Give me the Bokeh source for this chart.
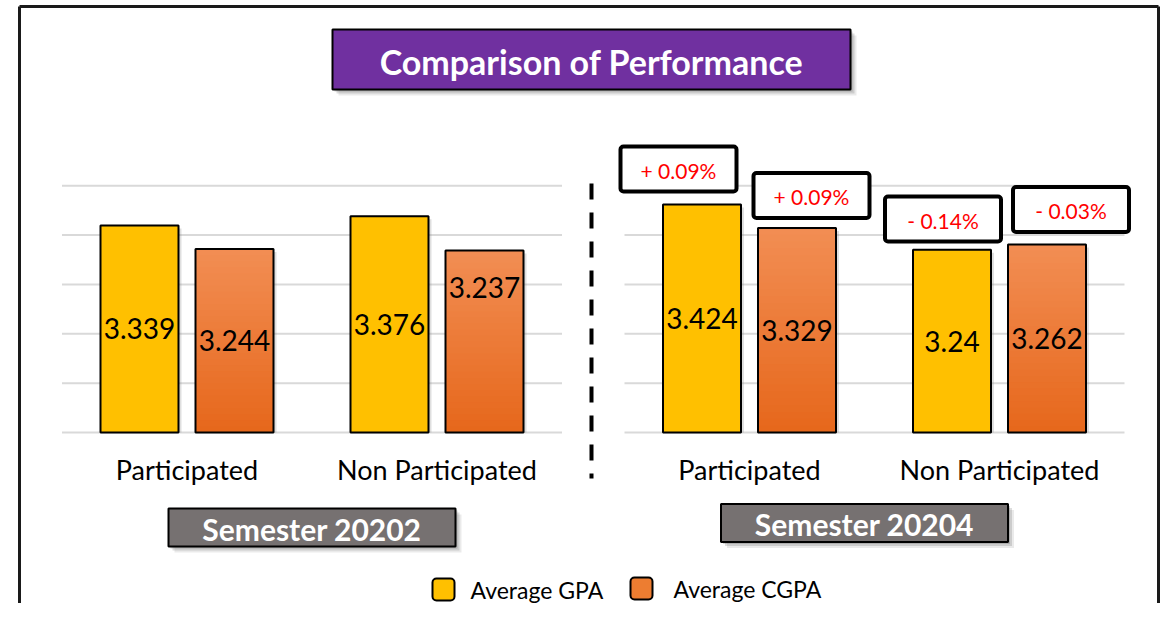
from bokeh.plotting import figure
from bokeh.models import Range1d
from bokeh.core.properties import value
from bokeh.embed import file_html
from bokeh.resources import INLINE

# ---------------- data ----------------
title = "Comparison of Performance"
semesters = ["Semester 20202", "Semester 20204"]
groups = ["Participated", "Non Participated"]
series = ["Average GPA", "Average CGPA"]
gpa = [3.339, 3.376, 3.424, 3.24]      # 20202 Part, 20202 Non, 20204 Part, 20204 Non
cgpa = [3.244, 3.237, 3.329, 3.262]
changes = ["+ 0.09%", "+ 0.09%", "- 0.14%", "- 0.03%"]  # 20204: GPA P, CGPA P, GPA NP, CGPA NP
y_ticks = [2.5, 2.7, 2.9, 3.1, 3.3, 3.5]

# ---------------- layout helpers (page pixels -> data, decorations only) ----------------
W, H = 1160, 603
OX, OY = 0, 0
XPX, X0 = 250.0, 186.5
YPX, YBASE_PX, YMIN = 246.8, 432.0, 2.5


def X(px):
    return (px - X0) / XPX


def Y(py):
    return YMIN + (YBASE_PX - py) / YPX


def DX(w):
    return w / XPX


def DY(h):
    return h / YPX


FONT = value("Lato")
PANEL_STEP = 2.25
DODGE = 0.19
BAR_W = 0.312

p = figure(width=W, height=H, x_range=Range1d(X(OX), X(OX + W)),
           y_range=Range1d(Y(OY + H), Y(OY)),
           x_axis_location=None, y_axis_location=None,
           toolbar_location=None, output_backend="svg",
           min_border=0, outline_line_color=None,
           background_fill_color="white", border_fill_color="white")
p.xgrid.visible = False
p.ygrid.visible = False

# outer frame
p.line([X(19), X(19)], [Y(620), Y(6)], line_color="#1a1a1a", line_width=3)
p.line([X(19), X(1158)], [Y(6), Y(6)], line_color="#1a1a1a", line_width=3)
p.line([X(1158), X(1158)], [Y(6), Y(620)], line_color="#1a1a1a", line_width=3)

# ---------------- gridlines per panel ----------------
gx0, gx1, gy = [], [], []
for s in range(len(semesters)):
    for t in y_ticks:
        gx0.append(s * PANEL_STEP - 0.5)
        gx1.append(s * PANEL_STEP + len(groups) - 0.5)
        gy.append(t)
p.segment(x0=gx0, x1=gx1, y0=gy, y1=gy, line_color="#d9d9d9", line_width=2)

# ---------------- bars ----------------
centers = [s * PANEL_STEP + g for s in range(len(semesters)) for g in range(len(groups))]
gpa_x = [c - DODGE for c in centers]
cgpa_x = [c + DODGE for c in centers]

# soft shadows
p.vbar(x=[x + DX(3) for x in gpa_x + cgpa_x], top=[v - DY(3) for v in gpa + cgpa],
       bottom=YMIN, width=BAR_W, fill_color="#7f7f7f", fill_alpha=0.25, line_color=None)

p.vbar(x=gpa_x, top=gpa, bottom=YMIN, width=BAR_W, fill_color="#FFC000",
       line_color="black", line_width=2)

# CGPA bars with vertical gradient (nested, overlapping layers -> no seams)
N = 30
top_c = (242, 142, 84)
bot_c = (230, 103, 27)
ql, qr, qb, qt, qc = [], [], [], [], []
for k in range(N, 0, -1):
    f = (k - 0.5) / N
    col = "#%02x%02x%02x" % tuple(int(round(bot_c[j] + (top_c[j] - bot_c[j]) * f)) for j in range(3))
    for x, v in zip(cgpa_x, cgpa):
        ql.append(x - BAR_W / 2)
        qr.append(x + BAR_W / 2)
        qb.append(YMIN)
        qt.append(YMIN + (v - YMIN) * k / N)
        qc.append(col)
p.quad(left=ql, right=qr, bottom=qb, top=qt, fill_color=qc, line_color=None)
p.vbar(x=cgpa_x, top=cgpa, bottom=YMIN, width=BAR_W, fill_color=None,
       line_color="black", line_width=2)

# value labels
gpa_ly = [(YMIN + v) / 2 for v in gpa]
cgpa_ly = [(YMIN + v) / 2 for v in cgpa]
cgpa_ly[1] = cgpa[1] - 0.15   # this label sits near the top of its bar in the original
p.text(x=gpa_x + cgpa_x, y=gpa_ly + cgpa_ly,
       text=["%g" % v for v in gpa + cgpa],
       text_align="center", text_baseline="middle", text_font=FONT,
       text_font_size="28px", text_color="black")

# category labels
p.text(x=centers, y=[Y(469)] * len(centers), text=groups * len(semesters),
       text_align="center", text_baseline="middle", text_font=FONT,
       text_font_size="27px", text_color="black")

# dashed divider
p.line([X(591), X(591)], [Y(183), Y(478)], line_color="black", line_width=4,
       line_dash="16 13")

# change boxes (semester 20204)
bx = [X(678), X(811), X(942.5), X(1070.5)]
by = [Y(168.5), Y(195), Y(218.5), Y(209)]
p.rect(x=bx, y=by, width=DX(116), height=DY(45), fill_color="white",
       line_color="black", line_width=4, border_radius=3)
p.text(x=bx, y=[b - DY(1) for b in by], text=changes, text_align="center",
       text_baseline="middle", text_font=FONT, text_font_size="21px",
       text_color="#ff0000")

# title box
for off, a in [(6, 0.12), (4, 0.2), (2, 0.25)]:
    p.rect(x=[X(591 + off)], y=[Y(59 + off)], width=DX(518), height=DY(60),
           fill_color="#555555", fill_alpha=a, line_color=None)
p.rect(x=[X(591)], y=[Y(59)], width=DX(518), height=DY(60), fill_color="#7030A0",
       line_color="black", line_width=2)
p.text(x=[X(591)], y=[Y(61)], text=[title], text_align="center",
       text_baseline="middle", text_font=FONT, text_font_style="bold",
       text_font_size="34px", text_color="white")

# semester boxes
sx = [X(311.5), X(864)]
sy = [Y(527), Y(522.5)]
for off, a in [(6, 0.12), (4, 0.2), (2, 0.25)]:
    p.rect(x=[v + DX(off) for v in sx], y=[v - DY(off) for v in sy], width=DX(287),
           height=DY(38), fill_color="#555555", fill_alpha=a, line_color=None)
p.rect(x=sx, y=sy, width=DX(287), height=DY(38), fill_color="#767171",
       line_color="black", line_width=2)
p.text(x=sx, y=[v - DY(1) for v in sy], text=semesters, text_align="center",
       text_baseline="middle", text_font=FONT, text_font_style="bold",
       text_font_size="30px", text_color="white")

# legend (kept inside the canvas)
p.rect(x=[X(443), X(641)], y=[Y(589), Y(588)], width=DX(22), height=DY(22),
       fill_color=["#FFC000", "#ED7D31"], line_color="black", line_width=2,
       border_radius=4)
p.text(x=[X(470), X(673)], y=[Y(589), Y(588)], text=series, text_align="left",
       text_baseline="middle", text_font=FONT, text_font_size="23px",
       text_color="black")

open("out.html", "w").write(file_html(p, INLINE))
